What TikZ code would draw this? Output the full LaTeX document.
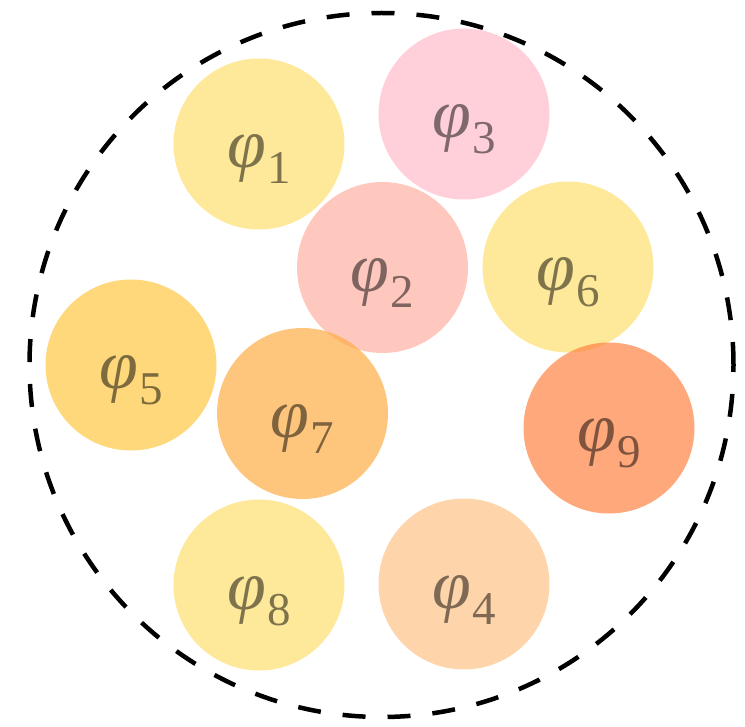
\documentclass[tikz,border=0pt]{standalone}
\usepackage{fontspec}
\setmainfont{Liberation Serif}
\usetikzlibrary{positioning}
\definecolor{phiyellow}{HTML}{FEE06F}
\definecolor{phigold}{HTML}{FDC742}
\definecolor{phiorange}{HTML}{FEAE45}
\definecolor{phired}{HTML}{FF8344}
\definecolor{phisalmon}{HTML}{FFB0A2}
\definecolor{phipink}{HTML}{FFBCCA}
\definecolor{phipeach}{HTML}{FEC386}
\newcommand{\phisub}[1]{{\fontsize{70}{70}\selectfont\itshape φ}\kern1pt\raisebox{-16pt}{\fontsize{47}{47}\selectfont #1}}

\begin{document}
\begin{tikzpicture}[
  x=1pt, y=-1pt,
  ball/.style={
    circle, fill=#1, fill opacity=0.7, draw=none,
    minimum size=171pt, inner sep=0pt
  },
  lbl/.style={text=black, text opacity=0.5, anchor=base, inner sep=0pt},
  outer/.style={draw=black, line width=4.5pt, dash pattern=on 23pt off 22pt},
]
  \useasboundingbox (0,0) rectangle (745,727);

  % Enclosing set
  \node[circle, outer, minimum size=704pt, inner sep=0pt] (set) at (381.5,365) {};

  % Component circles
  \node[ball=phiyellow] (p1) at (259,144) {};
  \node[ball=phipink]   (p3) at (464,114) {};
  \node[ball=phisalmon] (p2) at (382.5,267.5) {};
  \node[ball=phiyellow] (p6) at (568,267) {};
  \node[ball=phigold]   (p5) at (131,365) {};
  \node[ball=phiorange] (p7) at (302.5,413.5) {};
  \node[ball=phired]    (p9) at (609,428) {};
  \node[ball=phiyellow] (p8) at (259,585) {};
  \node[ball=phipeach]  (p4) at (464,584) {};

  % Labels
  \foreach \n in {1,...,9}
    \node[lbl] (t\n) at ([yshift=-24pt]p\n.center) {\phisub{\n}};
\end{tikzpicture}
\end{document}
